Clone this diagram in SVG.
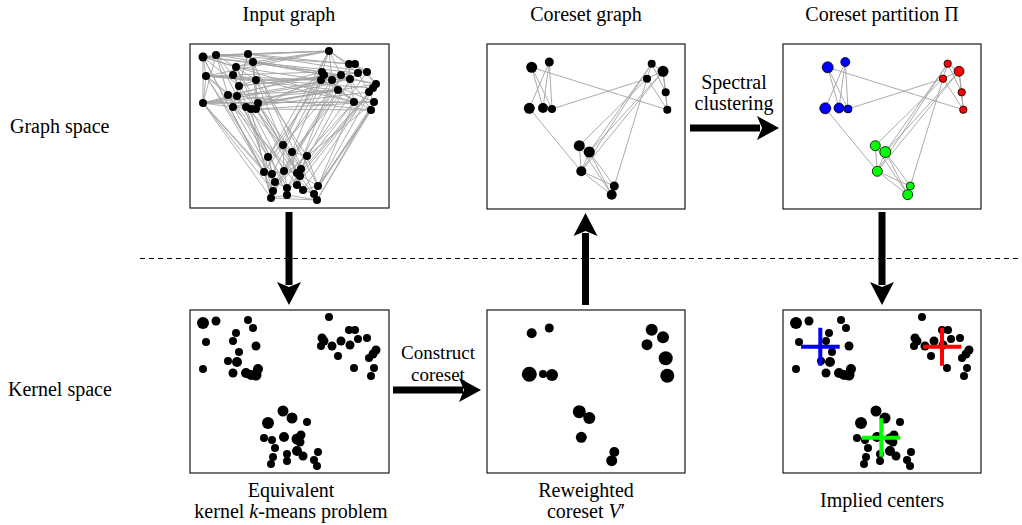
<svg xmlns="http://www.w3.org/2000/svg" xmlns:xlink="http://www.w3.org/1999/xlink" width="1022" height="525" viewBox="0 0 1022 525">
<style>
text{font-family:Liberation Serif,DejaVu Serif,serif;font-size:20px;fill:#000}
.c{text-anchor:middle}
.sm{font-size:19px}
.box{fill:#fff;stroke:#1a1a1a;stroke-width:1.2}
.e{fill:none;stroke:#a3a3a3;stroke-width:0.9}
.d{fill:#000}
.dash{fill:none;stroke:#000;stroke-width:1;stroke-dasharray:5 4}
.arr{fill:#000}
.nb{fill:#0000ff;stroke:#000;stroke-width:0.8}
.nr{fill:#ff0000;stroke:#000;stroke-width:0.8}
.ng{fill:#00ff00;stroke:#000;stroke-width:0.8}
.cross{fill:none;stroke-width:4}
</style>
<defs>
<g id="tl-dots" class="d">
<circle cx="203" cy="57" r="4.5"/><circle cx="216" cy="55" r="4"/><circle cx="248" cy="54" r="4"/><circle cx="253" cy="62" r="4"/><circle cx="236" cy="67" r="4"/><circle cx="206" cy="76" r="4"/><circle cx="233" cy="75" r="4"/><circle cx="256" cy="80" r="4"/><circle cx="239" cy="86" r="4"/><circle cx="228" cy="95" r="4"/><circle cx="237" cy="96" r="4"/><circle cx="203" cy="103" r="4"/><circle cx="233" cy="107" r="4"/><circle cx="246" cy="107" r="4"/><circle cx="251" cy="109" r="4"/><circle cx="256" cy="109" r="4"/><circle cx="258" cy="103" r="4"/>
<circle cx="329" cy="51" r="4"/><circle cx="349" cy="64" r="4"/><circle cx="355" cy="64" r="4"/><circle cx="322" cy="72" r="4"/><circle cx="324" cy="75" r="4"/><circle cx="321" cy="80" r="4"/><circle cx="332" cy="80" r="4"/><circle cx="341" cy="75" r="4"/><circle cx="350" cy="79" r="4"/><circle cx="358" cy="73" r="4"/><circle cx="367" cy="72" r="4"/><circle cx="338" cy="90" r="4"/><circle cx="376" cy="84" r="4"/><circle cx="373" cy="88" r="4"/><circle cx="369" cy="92" r="4"/><circle cx="354" cy="102" r="4"/><circle cx="374" cy="102" r="4"/><circle cx="371" cy="110" r="4"/>
<circle cx="283" cy="145" r="4"/><circle cx="292" cy="152" r="4"/><circle cx="268" cy="157" r="4"/><circle cx="307" cy="156" r="4"/><circle cx="264" cy="172" r="4"/><circle cx="272" cy="174" r="4"/><circle cx="284" cy="171" r="4"/><circle cx="297" cy="173" r="4"/><circle cx="301" cy="169" r="4"/><circle cx="300" cy="176" r="4"/><circle cx="275" cy="182" r="4"/><circle cx="318" cy="186" r="4"/><circle cx="297" cy="185" r="4"/><circle cx="303" cy="190" r="4"/><circle cx="287" cy="188" r="4"/><circle cx="273" cy="191" r="4"/><circle cx="287" cy="195" r="4"/><circle cx="271" cy="198" r="4"/><circle cx="314" cy="194" r="4"/><circle cx="317" cy="200" r="4"/>
</g>
<g id="bl-dots" class="d">
<circle cx="203" cy="323" r="6"/><circle cx="216" cy="321" r="4.5"/><circle cx="248" cy="320" r="4"/><circle cx="253" cy="328" r="4"/><circle cx="236" cy="333" r="4"/><circle cx="206" cy="342" r="4"/><circle cx="233" cy="341" r="4"/><circle cx="256" cy="346" r="4.5"/><circle cx="239" cy="352" r="4"/><circle cx="228" cy="361" r="4"/><circle cx="237" cy="362" r="5"/><circle cx="203" cy="369" r="4"/><circle cx="233" cy="373" r="4.5"/><circle cx="246" cy="373" r="5"/><circle cx="251" cy="375" r="5"/><circle cx="256" cy="375" r="5.5"/><circle cx="258" cy="369" r="5"/>
<circle cx="329" cy="317" r="4"/><circle cx="349" cy="330" r="4"/><circle cx="355" cy="330" r="4"/><circle cx="322" cy="338" r="4.5"/><circle cx="324" cy="341" r="4.5"/><circle cx="321" cy="346" r="4"/><circle cx="332" cy="346" r="4.5"/><circle cx="341" cy="341" r="4.5"/><circle cx="350" cy="345" r="4.5"/><circle cx="358" cy="339" r="4"/><circle cx="367" cy="338" r="4"/><circle cx="338" cy="356" r="4"/><circle cx="376" cy="350" r="4.5"/><circle cx="373" cy="354" r="4.5"/><circle cx="369" cy="358" r="4"/><circle cx="354" cy="368" r="4"/><circle cx="374" cy="368" r="4"/><circle cx="371" cy="376" r="4"/>
<circle cx="283" cy="411" r="5.5"/><circle cx="292" cy="418" r="5.5"/><circle cx="268" cy="423" r="6"/><circle cx="307" cy="422" r="4"/><circle cx="264" cy="438" r="4"/><circle cx="272" cy="440" r="4"/><circle cx="284" cy="437" r="5"/><circle cx="297" cy="439" r="5.5"/><circle cx="301" cy="435" r="4.5"/><circle cx="300" cy="442" r="4.5"/><circle cx="275" cy="448" r="4"/><circle cx="318" cy="452" r="4"/><circle cx="297" cy="451" r="5"/><circle cx="303" cy="456" r="4.5"/><circle cx="287" cy="454" r="4"/><circle cx="273" cy="457" r="4"/><circle cx="287" cy="461" r="4"/><circle cx="271" cy="464" r="4"/><circle cx="314" cy="460" r="4"/><circle cx="317" cy="466" r="4"/>
</g>
<path id="cg-edges" class="e" d="M531.7 67.3L667.3 109.7M531.7 67.3L543 108M531.7 67.3L552 109M549.3 62L529.3 108.3M549.3 62L543 108M549.3 62L552 109M552 109L647 78.7M529.3 108.3L581.3 171.3M651.7 63.7L663 71.3M651.7 63.7L647 78.7M651.7 63.7L665.7 92.3M663 71.3L665.7 92.3M663 71.3L667.3 109.7M647 78.7L667.3 109.7M665.7 92.3L667.3 109.7M647 78.7L663 71.3M647 78.7L579.3 145.7M651.7 63.7L581.3 171.3M663 71.3L589.3 152M663 71.3L581.3 171.3M647 78.7L614.3 186M651.7 63.7L589.3 152M579.3 145.7L581.3 171.3M579.3 145.7L589.3 152M589.3 152L581.3 171.3M589.3 152L614.3 186M589.3 152L611.7 194.7M581.3 171.3L614.3 186M581.3 171.3L611.7 194.7M579.3 145.7L611.7 194.7M614.3 186L611.7 194.7"/>
</defs>

<g id="panel-input-graph">
<rect class="box" x="190" y="44" width="199" height="164"/>
<path class="e" d="M203 57L216 55M203 57L206 76M203 57L203 103M203 57L236 67M203 57L239 86M216 55L248 54M216 55L233 75M216 55L228 95M248 54L253 62M248 54L256 80M248 54L233 107M253 62L236 67M253 62L258 103M236 67L233 75M236 67L237 96M206 76L203 103M206 76L228 95M206 76L233 75M233 75L239 86M256 80L239 86M256 80L256 109M239 86L237 96M228 95L233 107M237 96L246 107M203 103L233 107M233 107L251 109M246 107L256 109M251 109L258 103M256 109L253 62M216 55L256 80M206 76L246 107M203 103L237 96M203 57L248 54M248 54L239 86M236 67L256 109M203 103L258 103M206 76L256 80M216 55L203 103
M329 51L349 64M329 51L322 72M329 51L341 75M329 51L332 80M329 51L358 73M349 64L355 64M349 64L350 79M355 64L367 72M322 72L324 75M322 72L332 80M324 75L321 80M321 80L338 90M332 80L341 75M341 75L350 79M350 79L358 73M358 73L367 72M367 72L376 84M376 84L373 88M373 88L369 92M369 92L374 102M354 102L374 102M374 102L371 110M354 102L350 79M338 90L354 102M332 80L338 90M358 73L369 92M355 64L376 84M324 75L341 75M322 72L354 102M350 79L371 110M349 64L367 72M321 80L350 79M322 72L376 84M321 80L374 102M338 90L371 110
M283 145L292 152M283 145L268 157M283 145L284 171M292 152L307 156M292 152L301 169M268 157L264 172M268 157L272 174M307 156L301 169M264 172L272 174M272 174L284 171M284 171L297 173M297 173L301 169M301 169L300 176M300 176L297 185M275 182L287 188M275 182L273 191M318 186L314 194M318 186L303 190M297 185L303 190M303 190L314 194M287 188L287 195M273 191L271 198M287 195L317 200M271 198L287 195M314 194L317 200M264 172L275 182M283 145L297 173M292 152L297 185M307 156L318 186M284 171L287 188M272 174L271 198M300 176L317 200M268 157L275 182M297 173L318 186M271 198L317 200M264 172L271 198
M203 57L329 51M216 55L329 51M248 54L329 51M253 62L329 51M236 67L329 51M206 76L329 51M233 75L322 72M203 57L322 72M216 55L341 75M248 54L349 64M253 62L324 75M236 67L321 80M206 76L332 80M256 80L350 79M239 86L358 73M228 95L338 90M237 96L332 80M203 103L322 72M203 103L354 102M233 107L338 90M246 107L369 92M251 109L371 110M256 109L374 102M258 103L376 84M256 80L321 80M239 86L367 72M206 76L373 88M203 103L350 79M228 95L324 75M233 75L354 102M233 107L350 79M253 62L376 84M258 103L321 80M246 107L338 90M248 54L367 72M237 96L371 110M203 57L358 73M256 109L324 75M203 103L374 102M203 103L338 90M206 76L338 90M203 57L354 102M216 55L355 64
M203 57L273 191M206 76L264 172M203 103L271 198M203 103L275 182M228 95L268 157M233 107L272 174M246 107L283 145M251 109L284 171M256 109L297 173M258 103L292 152M239 86L301 169M256 80L307 156M237 96L287 188M233 75L287 195M236 67L300 176M248 54L318 186M253 62L314 194M216 55L268 157M233 107L317 200M256 109L303 190M206 76L275 182M228 95L297 185M246 107L273 191M258 103L300 176M251 109L271 198M256 80L283 145M203 103L264 172M203 57L264 172M203 103L273 191
M329 51L283 145M329 51L268 157M322 72L264 172M324 75L284 171M321 80L272 174M332 80L297 173M338 90L275 182M338 90L287 188M354 102L301 169M354 102L318 186M374 102L317 200M371 110L314 194M369 92L303 190M373 88L297 185M376 84L300 176M367 72L307 156M358 73L292 152M350 79L287 195M341 75L273 191M349 64L271 198M355 64L283 145M321 80L268 157M332 80L264 172M371 110L318 186M374 102L275 182M354 102L273 191M369 92L287 188M371 110L317 200M374 102L314 194M373 88L318 186"/>
<use xlink:href="#tl-dots" href="#tl-dots"/>
</g>

<g id="panel-coreset-graph">
<rect class="box" x="487" y="44" width="198" height="165"/>
<use xlink:href="#cg-edges" href="#cg-edges"/>
<g class="d">
<circle cx="531.7" cy="67.3" r="5.5"/><circle cx="549.3" cy="62" r="4.5"/><circle cx="529.3" cy="108.3" r="5.5"/><circle cx="543" cy="108" r="5"/><circle cx="552" cy="109" r="4"/>
<circle cx="651.7" cy="63.7" r="4"/><circle cx="663" cy="71.3" r="5.5"/><circle cx="647" cy="78.7" r="4"/><circle cx="665.7" cy="92.3" r="4"/><circle cx="667.3" cy="109.7" r="4"/>
<circle cx="579.3" cy="145.7" r="5.5"/><circle cx="589.3" cy="152" r="5.5"/><circle cx="581.3" cy="171.3" r="5"/><circle cx="614.3" cy="186" r="4.5"/><circle cx="611.7" cy="194.7" r="5"/>
</g>
</g>

<g id="panel-coreset-partition">
<rect class="box" x="783" y="44" width="198" height="165"/>
<use xlink:href="#cg-edges" href="#cg-edges" transform="translate(296,0)"/>
<circle class="nb" cx="827.7" cy="67.3" r="5.5"/><circle class="nb" cx="845.3" cy="62" r="4.5"/><circle class="nb" cx="825.3" cy="108.3" r="5.5"/><circle class="nb" cx="839" cy="108" r="5"/><circle class="nb" cx="848" cy="109" r="4"/>
<circle class="nr" cx="947.7" cy="63.7" r="3.7"/><circle class="nr" cx="959" cy="71.3" r="5"/><circle class="nr" cx="943" cy="78.7" r="3.7"/><circle class="nr" cx="961.7" cy="92.3" r="3.7"/><circle class="nr" cx="963.3" cy="109.7" r="3.7"/>
<circle class="ng" cx="875.3" cy="145.7" r="5"/><circle class="ng" cx="885.3" cy="152" r="5.5"/><circle class="ng" cx="877.3" cy="171.3" r="5"/><circle class="ng" cx="910.3" cy="186" r="4"/><circle class="ng" cx="907.7" cy="194.7" r="5"/>
</g>

<g id="panel-kernel-problem">
<rect class="box" x="190" y="310" width="199" height="163"/>
<use xlink:href="#bl-dots" href="#bl-dots"/>
</g>

<g id="panel-reweighted-coreset">
<rect class="box" x="487" y="310" width="198" height="163"/>
<g class="d">
<circle cx="531.7" cy="333.3" r="5"/><circle cx="549.3" cy="328" r="4.5"/><circle cx="529.3" cy="374.3" r="7.5"/><circle cx="543" cy="374" r="4"/><circle cx="552" cy="375" r="6"/>
<circle cx="651.7" cy="329.7" r="6"/><circle cx="663" cy="337.3" r="6"/><circle cx="647" cy="344.7" r="5.5"/><circle cx="665.7" cy="358.3" r="7"/><circle cx="667.3" cy="375.7" r="7"/>
<circle cx="579.3" cy="411.7" r="6.5"/><circle cx="589.3" cy="418" r="6"/><circle cx="581.3" cy="437.3" r="5.5"/><circle cx="614.3" cy="452" r="5"/><circle cx="611.7" cy="460.7" r="5.5"/>
</g>
</g>

<g id="panel-implied-centers">
<rect class="box" x="783" y="310" width="198" height="163"/>
<use xlink:href="#bl-dots" href="#bl-dots" transform="translate(593,0)"/>
<path class="cross" stroke="#0000ff" d="M801 346.7H839.7M820.3 327.7V365.7"/>
<path class="cross" stroke="#ff0000" d="M923 346.7H961.3M942 327.7V365.7"/>
<path class="cross" stroke="#00ff00" d="M862 437.7H900.3M881.3 418.3V456.7"/>
</g>

<g font-family="Liberation Serif, DejaVu Serif, serif">
<g id="title-input"><text class="c" x="289" y="21">Input graph</text></g>
<g id="title-coreset-graph"><text class="c" x="586" y="21">Coreset graph</text></g>
<g id="title-partition"><text class="c" x="882" y="21">Coreset partition Π</text></g>
<g id="label-graph-space"><text x="10" y="133">Graph space</text></g>
<g id="label-kernel-space"><text x="8" y="396">Kernel space</text></g>
<g id="label-equivalent"><text class="c" x="291" y="497">Equivalent</text><text class="c" x="291" y="518">kernel <tspan font-style="italic">k</tspan>-means problem</text></g>
<g id="label-reweighted"><text class="c" x="586" y="497">Reweighted</text><text class="c" x="586" y="518">coreset <tspan font-style="italic">V</tspan>′</text></g>
<g id="label-implied"><text class="c" x="882" y="507">Implied centers</text></g>
<g id="label-spectral"><text class="c" x="734" y="89">Spectral</text><text class="c" x="734" y="110">clustering</text></g>
<g id="label-construct"><text class="c sm" x="438" y="359">Construct</text><text class="c sm" x="438" y="381">coreset</text></g>
</g>

<line id="separator" class="dash" x1="140" y1="258.5" x2="1022" y2="258.5"/>

<g id="connectors" class="arr">
<path d="M285.5 212H292.5V285H285.5Z M277 282L289 305L301 282L289 287Z"/>
<path d="M582 305H589V233H582Z M573.5 236L585.5 213L597.5 236L585.5 231Z"/>
<path d="M878.5 212H885.5V285H878.5Z M870 282L882 305L894 282L882 287Z"/>
<path d="M393 386.5H463V393.5H393Z M459 378L481 390L459 402L464 390Z"/>
<path d="M690 124.5H760V131.5H690Z M757 116L779 128L757 140L762 128Z"/>
</g>
</svg>
